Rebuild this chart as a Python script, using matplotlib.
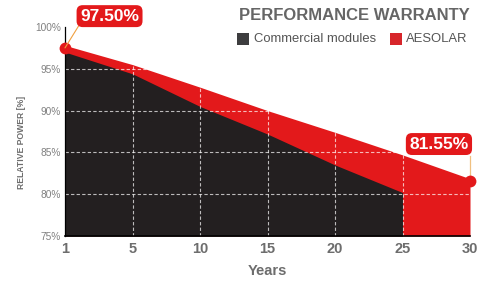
import numpy as np
import matplotlib
matplotlib.use('Agg')
from matplotlib import pyplot as plt
from matplotlib.patches import Rectangle

plt.rcParams['font.family'] = ['Liberation Sans', 'DejaVu Sans']

years = ['1', '5', '10', '15', '20', '25', '30']
aesolar = [97.5, 95.2, 92.5, 89.7, 87.1, 84.4, 81.55]
commercial = [97.0, 94.4, 90.5, 87.2, 83.5, 80.2]
yticks = [75, 80, 85, 90, 95, 100]

RED = '#e3191b'
DARK = '#231f20'
W, H = 479, 282

fig = plt.figure(figsize=(W / 100, H / 100), dpi=100)
ax = fig.add_axes([65 / W, 1 - 236 / H, 405 / W, 209 / H])

x = np.arange(len(years))
ax.fill_between(x, 75, aesolar, color=RED, lw=0, zorder=1)
ax.plot(x, aesolar, color=RED, lw=3, zorder=2, solid_capstyle='round')
ax.fill_between(x[:len(commercial)], 75, commercial, color=DARK, lw=0, zorder=3)

# gridlines only show on the filled area
for v in yticks[1:-1]:
    ax.axhline(v, color='white', alpha=0.7, lw=0.8, ls=(0, (3, 2)), zorder=4)
for i in x[1:-1]:
    ax.axvline(i, color='white', alpha=0.7, lw=0.8, ls=(0, (3, 2)), zorder=4)

ax.plot([x[0], x[-1]], [aesolar[0], aesolar[-1]], 'o', color=RED, ms=8.5,
        zorder=6, clip_on=False, mec='none')

ax.set_xlim(0, len(years) - 1)
ax.set_ylim(75, 100)
ax.set_xticks(x)
ax.set_xticklabels(years, fontsize=10.5, fontweight='bold', color='#6d6d6d')
ax.set_yticks(yticks)
ax.set_yticklabels([f'{v}%' for v in yticks], fontsize=7.3, color='#808080')
ax.tick_params(length=0, pad=3)
ax.tick_params(axis='x', pad=4)
for s in ['top', 'right']:
    ax.spines[s].set_visible(False)
ax.spines['left'].set_color('black')
ax.spines['left'].set_linewidth(0.9)
ax.spines['bottom'].set_color('black')
ax.spines['bottom'].set_linewidth(1.2)
ax.spines['left'].set_zorder(5)
ax.spines['bottom'].set_zorder(5)

ax.set_xlabel('Years', fontsize=10.5, fontweight='bold', color='#6d6d6d', labelpad=6)
fig.text(22 / W, 1 - 142 / H, 'RELATIVE POWER [%]', rotation=90, fontsize=6.2,
         fontweight='bold', color='#6d6d6d', ha='center', va='center')

# value labels
box = dict(boxstyle='round,pad=0.2,rounding_size=0.35', fc=RED, ec='none')
ax.annotate('97.50%', xy=(x[0], aesolar[0]), xytext=(0.66, 101.3),
            fontsize=12.5, fontweight='bold', color='white', ha='center', va='center',
            bbox=box, annotation_clip=False, zorder=7,
            arrowprops=dict(arrowstyle='-', color='#f0a040', lw=0.8,
                            shrinkA=0, shrinkB=0, relpos=(0.0, 0.0)))
ax.plot([x[-1], x[-1]], [aesolar[-1], 84.6], color='#f0c080', lw=0.9,
        zorder=5, clip_on=False)
ax.text(5.54, 86.0, '81.55%', fontsize=12.5, fontweight='bold', color='white',
        ha='center', va='center', bbox=box, zorder=7)

# title and legend
fig.text(470 / W, 1 - 16 / H, 'PERFORMANCE WARRANTY', fontsize=12, fontweight='bold',
         color='#666666', ha='right', va='center')
fig.add_artist(Rectangle((237 / W, 1 - 45 / H), 12 / W, 12 / H,
                         transform=fig.transFigure, fc='#3d3d3f', ec='none'))
fig.text(254 / W, 1 - 39 / H, 'Commercial modules', fontsize=9.4, color='#555555',
         ha='left', va='center')
fig.add_artist(Rectangle((390 / W, 1 - 45 / H), 12 / W, 12 / H,
                         transform=fig.transFigure, fc='#d7262b', ec='none'))
fig.text(406 / W, 1 - 39 / H, 'AESOLAR', fontsize=9.4, color='#555555',
         ha='left', va='center')

fig.savefig('out.png', dpi=100)
